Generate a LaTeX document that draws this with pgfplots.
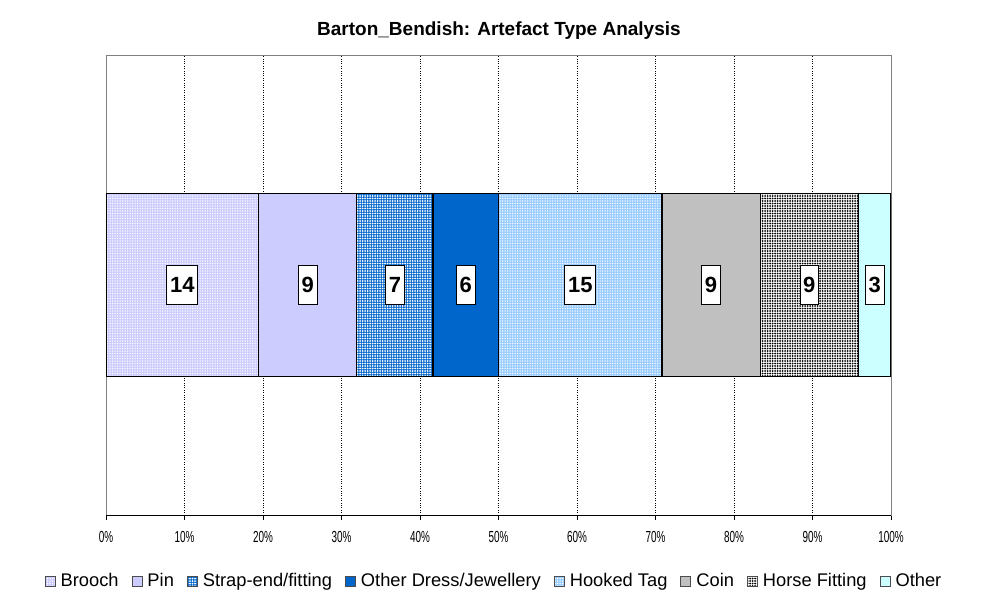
\documentclass[border=0pt]{standalone}
\usepackage{pgfplots}
\pgfplotsset{compat=1.18}
\usetikzlibrary{patterns.meta}
\usepackage{fontspec}
\setmainfont{Liberation Sans}
\newfontfamily\narrowfont[FakeStretch=0.62]{Liberation Sans}
\definecolor{cPin}{HTML}{CCCCFF}
\definecolor{cBlue}{HTML}{0066CC}
\definecolor{cHook}{HTML}{99CCFF}
\definecolor{cCoin}{HTML}{C0C0C0}
\definecolor{cOther}{HTML}{CCFFFF}
\begin{document}
\begin{tikzpicture}
\useasboundingbox[fill=white] (0,0) rectangle (987pt,606pt);
\begin{axis}[
  at={(106pt,91pt)}, anchor=south west,
  scale only axis, width=785pt, height=460pt,
  xbar stacked, bar width=183pt,
  ymin=-1, ymax=1, ytick=\empty,
  xmin=0, xmax=72,
  xtick={0,7.2,14.4,21.6,28.8,36,43.2,50.4,57.6,64.8,72},
  xticklabels={0\%,10\%,20\%,30\%,40\%,50\%,60\%,70\%,80\%,90\%,100\%},
  xtick pos=left, tick align=outside, major tick length=5pt,
  tick style={black, line width=0.8pt},
  xmajorgrids, major grid style={black, dotted, line width=0.9pt},
  axis line style={black!50, line width=0.9pt},
  ticklabel style={font=\narrowfont\fontsize{16}{16}\selectfont, yshift=-8pt},
  title={Barton\_Bendish: Artefact Type Analysis},
  title style={font=\bfseries\fontsize{19}{19}\selectfont, at={(0.5006,1.0393)}, anchor=center},
  /pgf/number format/assume math mode=true,
  point meta=explicit,
  nodes near coords,
  every node near coord/.append style={draw=black, fill=white, line width=0.8pt,
     font=\bfseries\fontsize{22}{22}\selectfont, inner xsep=3.2pt, inner ysep=0pt,
     minimum height=39pt, anchor=center},
  legend image code/.code={\draw[#1, draw=black!70, line width=0.6pt] (0pt,-5pt) rectangle (10pt,5pt);
     \path (13pt,0pt);},
  legend style={font=\fontsize{18.3}{18.3}\selectfont, draw=none, legend columns=-1,
     /tikz/every even column/.append style={column sep=11pt},
     at={(0.4943,-0.1435)}, anchor=center},
  every axis plot/.append style={draw=black, line width=1.2pt},
]
\addplot[fill=cPin, postaction={pattern={Dots[distance=2.5pt,radius=0.75pt]}, pattern color=white}] coordinates {(14,0) [14]};
\addplot[fill=cPin] coordinates {(9,0) [9]};
\addplot[fill=cBlue, postaction={pattern={Dots[distance=2.5pt,radius=1pt]}, pattern color=white}] coordinates {(7,0) [7]};
\addplot[fill=cBlue] coordinates {(6,0) [6]};
\addplot[fill=cHook, postaction={pattern={Dots[distance=2.5pt,radius=0.75pt]}, pattern color=white}] coordinates {(15,0) [15]};
\addplot[fill=cCoin] coordinates {(9,0) [9]};
\addplot[fill=white, postaction={pattern={Dots[distance=2.5pt,radius=1pt]}, pattern color=black}] coordinates {(9,0) [9]};
\addplot[fill=cOther] coordinates {(3,0) [3]};
\legend{Brooch, Pin, Strap-end/fitting, Other Dress/Jewellery, Hooked Tag, Coin, Horse Fitting, Other}
\draw[black, line width=1pt] (rel axis cs:0,0) -- (rel axis cs:1,0);
\end{axis}
\end{tikzpicture}
\end{document}
